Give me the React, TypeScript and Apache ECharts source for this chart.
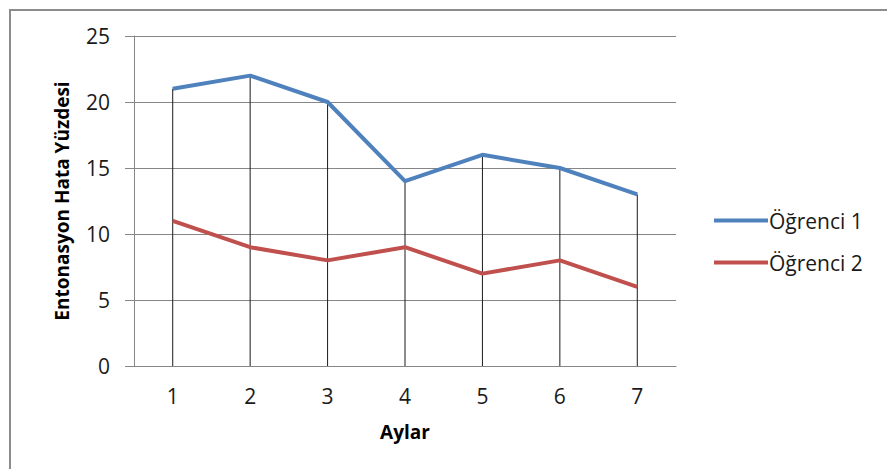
import React, { useEffect, useRef } from "react";
import * as echarts from "echarts";

const months = ["1", "2", "3", "4", "5", "6", "7"];
const ogrenci1 = [21, 22, 20, 14, 16, 15, 13];
const ogrenci2 = [11, 9, 8, 9, 7, 8, 6];
const seriesNames = ["Öğrenci 1", "Öğrenci 2"];

export default function App() {
  const ref = useRef<HTMLDivElement>(null);
  useEffect(() => {
    if (!ref.current) return;
    const chart = echarts.init(ref.current, null, { renderer: "svg" });
    const font = "Open Sans";
    chart.setOption({
      animation: false,
      backgroundColor: "#ffffff",
      textStyle: { fontFamily: font },
      graphic: [
        {
          type: "rect",
          shape: { x: 10, y: 10, width: 900, height: 480 },
          style: { fill: "none", stroke: "#8c8c8c", lineWidth: 2 },
          z: 100,
        },
      ],
      grid: { left: 134, right: 211, top: 36, bottom: 103 },
      legend: {
        data: seriesNames,
        orient: "vertical",
        left: 709,
        top: 205,
        icon: "rect",
        itemWidth: 54,
        itemHeight: 4,
        itemGap: 21,
        textStyle: { fontFamily: font, fontSize: 21, color: "#1a1a1a", padding: [0, 0, 0, -4] },
      },
      xAxis: {
        type: "category",
        data: months,
        boundaryGap: true,
        name: "Aylar",
        nameLocation: "middle",
        nameGap: 56,
        nameTextStyle: { fontFamily: font, fontSize: 19, fontWeight: "bold", color: "#000" },
        axisLine: { lineStyle: { color: "#868686", width: 1 } },
        axisTick: { show: false },
        axisLabel: { fontFamily: font, fontSize: 21, color: "#1a1a1a", margin: 19 },
        splitLine: { show: false },
      },
      yAxis: {
        type: "value",
        min: 0,
        max: 25,
        interval: 5,
        name: "Entonasyon Hata Yüzdesi",
        nameLocation: "middle",
        nameGap: 63,
        nameTextStyle: { fontFamily: font, fontSize: 19, fontWeight: "bold", color: "#000" },
        axisLine: { show: true, lineStyle: { color: "#868686", width: 1 } },
        axisTick: { show: true, length: 9, lineStyle: { color: "#868686" } },
        axisLabel: { fontFamily: font, fontSize: 21, color: "#1a1a1a", margin: 24 },
        splitLine: { show: true, lineStyle: { color: "#868686", width: 1 } },
      },
      series: [
        {
          name: "drop",
          type: "bar",
          data: ogrenci1,
          barWidth: 1,
          itemStyle: { color: "#1a1a1a" },
          z: 1,
          silent: true,
        },
        {
          name: seriesNames[0],
          type: "line",
          data: ogrenci1,
          symbol: "none",
          lineStyle: { color: "#4F81BD", width: 4 },
          itemStyle: { color: "#4F81BD" },
          z: 3,
        },
        {
          name: seriesNames[1],
          type: "line",
          data: ogrenci2,
          symbol: "none",
          lineStyle: { color: "#C0504D", width: 4 },
          itemStyle: { color: "#C0504D" },
          z: 3,
        },
      ],
    });
    return () => chart.dispose();
  }, []);
  return (
    <div
      ref={ref}
      style={{ position: "absolute", left: 0, top: 0, width: 887, height: 469 }}
    />
  );
}
